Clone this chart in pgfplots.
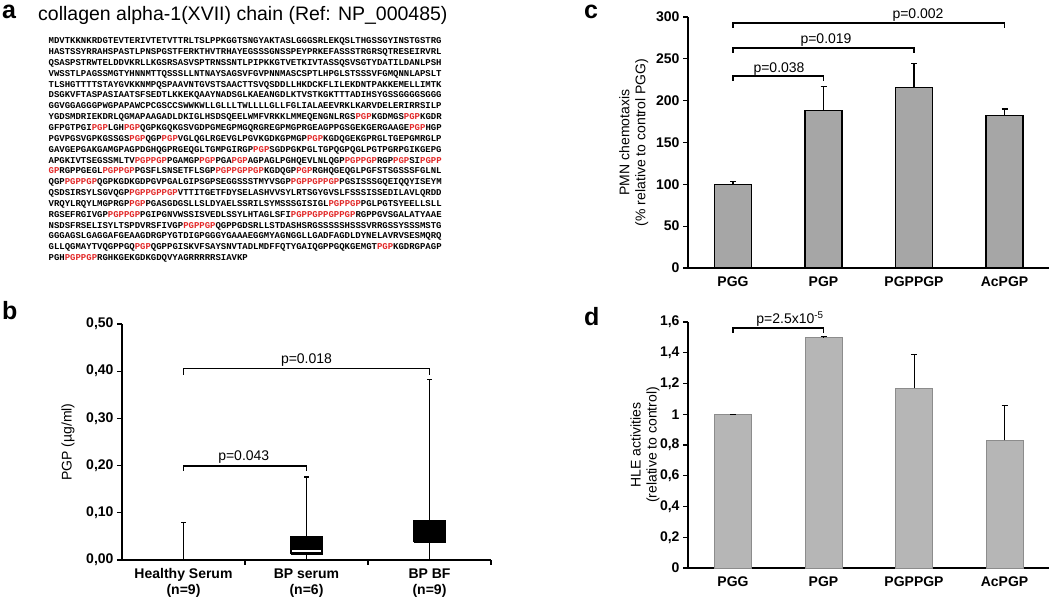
\documentclass[border=0pt]{standalone}
\usepackage{fontspec}
\setmainfont{Liberation Sans}
\setmonofont{Liberation Mono}
\usepackage{pgfplots}
\pgfplotsset{compat=1.18}

\definecolor{seqred}{RGB}{226,40,40}
\definecolor{barc}{RGB}{166,166,166}
\definecolor{bard}{RGB}{182,182,182}
\newcommand\R[1]{\textcolor{seqred}{#1}}
\newcommand\fs[2]{\fontsize{#1}{#2}\selectfont}

\pgfplotsset{
  panel/.style={
    scale only axis, axis lines*=left, clip=false,
    tick align=outside, major tick length=5pt,
    axis line style={line width=1.3pt},
    every tick/.style={black, line width=1.3pt},
    tick label style={font=\fs{14}{16}\bfseries},
    label style={font=\fs{14}{16}},
    /pgf/number format/assume math mode=true,
    /pgf/number format/use comma,
  },
  bx/.style={black, line width=1.3pt, mark=none},
}

\begin{document}
\begin{tikzpicture}
\path[use as bounding box] (0pt,0pt) rectangle (1050pt,604pt);

% ---- a: sequence
\node[anchor=base west, inner sep=0, font=\fs{25}{28}\bfseries] at (2pt,585pt) {a};
\node[anchor=base west, inner sep=0, font=\fs{19.5}{22}] at (38pt,583pt) {collagen alpha-1(XVII) chain (Ref: NP\_000485)};
\foreach \s [count=\i] in {
  {MDVTKKNKRDGTEVTERIVTETVTTRLTSLPPKGGTSNGYAKTASLGGGSRLEKQSLTHGSSGYINSTGSTRG},
  {HASTSSYRRAHSPASTLPNSPGSTFERKTHVTRHAYEGSSSGNSSPEYPRKEFASSSTRGRSQTRESEIRVRL},
  {QSASPSTRWTELDDVKRLLKGSRSASVSPTRNSSNTLPIPKKGTVETKIVTASSQSVSGTYDATILDANLPSH},
  {VWSSTLPAGSSMGTYHNNMTTQSSSLLNTNAYSAGSVFGVPNNMASCSPTLHPGLSTSSSVFGMQNNLAPSLT},
  {TLSHGTTTTSTAYGVKKNMPQSPAAVNTGVSTSAACTTSVQSDDLLHKDCKFLILEKDNTPAKKEMELLIMTK},
  {DSGKVFTASPASIAATSFSEDTLKKEKQAAYNADSGLKAEANGDLKTVSTKGKTTTADIHSYGSSGGGGSGGG},
  {GGVGGAGGGPWGPAPAWCPCGSCCSWWKWLLGLLLTWLLLLGLLFGLIALAEEVRKLKARVDELERIRRSILP},
  {YGDSMDRIEKDRLQGMAPAAGADLDKIGLHSDSQEELWMFVRKKLMMEQENGNLRGS\R{PGP}KGDMGS\R{PGP}KGDR},
  {GFPGTPGI\R{PGP}LGH\R{PGP}QGPKGQKGSVGDPGMEGPMGQRGREGPMGPRGEAGPPGSGEKGERGAAGE\R{PGP}HGP},
  {PGVPGSVGPKGSSGS\R{PGP}QGP\R{PGP}VGLQGLRGEVGLPGVKGDKGPMGP\R{PGP}KGDQGEKGPRGLTGEPGMRGLP},
  {GAVGEPGAKGAMGPAGPDGHQGPRGEQGLTGMPGIRGP\R{PGP}SGDPGKPGLTGPQGPQGLPGTPGRPGIKGEPG},
  {APGKIVTSEGSSMLTV\R{PGPPGP}PGAMGP\R{PGP}PGA\R{PGP}AGPAGLPGHQEVLNLQGP\R{PGPPGP}RGP\R{PGP}SI\R{PGPP}},
  {\R{GP}RGPPGEGL\R{PGPPGP}PGSFLSNSETFLSGP\R{PGPPGPPGP}KGDQGP\R{PGP}RGHQGEQGLPGFSTSGSSSFGLNL},
  {QGP\R{PGPPGP}QGPKGDKGDPGVPGALGIPSGPSEGGSSSTMYVSGP\R{PGPPGPPGP}PGSISSSGQEIQQYISEYM},
  {QSDSIRSYLSGVQGP\R{PGPPGPPGP}VTTITGETFDYSELASHVVSYLRTSGYGVSLFSSSISSEDILAVLQRDD},
  {VRQYLRQYLMGPRGP\R{PGP}PGASGDGSLLSLDYAELSSRILSYMSSSGISIGL\R{PGPPGP}PGLPGTSYEELLSLL},
  {RGSEFRGIVGP\R{PGPPGP}PGIPGNVWSSISVEDLSSYLHTAGLSFI\R{PGPPGPPGPPGP}RGPPGVSGALATYAAE},
  {NSDSFRSELISYLTSPDVRSFIVGP\R{PGPPGP}QGPPGDSRLLSTDASHSRGSSSSSHSSSVRRGSSYSSSMSTG},
  {GGGAGSLGAGGAFGEAAGDRGPYGTDIGPGGGYGAAAEGGMYAGNGGLLGADFAGDLDYNELAVRVSESMQRQ},
  {GLLQGMAYTVQGPPGQ\R{PGP}QGPPGISKVFSAYSNVTADLMDFFQTYGAIQGPPGQKGEMGT\R{PGP}KGDRGPAGP},
  {PGH\R{PGPPGP}RGHKGEKGDKGDQVYAGRRRRRSIAVKP}}
  \node[anchor=base west, inner sep=0, font=\ttfamily\bfseries\fs{8.97}{10}] at (48.5pt,{560.3pt-(\i-1)*10.85pt}) {\s};

% ---- b: box plots (min, q1, median, q3, max)
% Healthy Serum: 0, 0, 0, 0, 0.080
% BP serum:      0, 0.013, 0.019, 0.049, 0.176
% BP BF:         0, 0.038, 0.055, 0.083, 0.383
\node[anchor=base west, inner sep=0, font=\fs{25}{28}\bfseries] at (2pt,284pt) {b};
\begin{axis}[panel, at={(122pt,44pt)}, anchor=south west,
  width=369pt, height=236pt,
  xmin=0.5, xmax=3.5, ymin=0, ymax=0.5,
  ytick={0,0.1,0.2,0.3,0.4,0.5},
  yticklabel style={/pgf/number format/.cd, fixed, fixed zerofill, precision=2},
  xtick={1.5,2.5,3.5}, xticklabels={},
  extra x ticks={1,2,3},
  extra x tick labels={{Healthy Serum\\(n=9)},{BP serum\\(n=6)},{BP BF\\(n=9)}},
  extra x tick style={tick style={draw=none}, xticklabel style={align=center}},
  ylabel={PGP (µg/ml)},
  ylabel style={at={(axis description cs:-0.146,0.5)}, anchor=center},
]
% whiskers
\addplot[bx] coordinates {(1,0) (1,0.080)};
\addplot[bx] coordinates {(0.983,0.080) (1.017,0.080)};
\addplot[bx] coordinates {(2,0) (2,0.176)};
\addplot[bx] coordinates {(1.983,0.176) (2.017,0.176)};
\addplot[bx] coordinates {(3,0) (3,0.383)};
\addplot[bx] coordinates {(2.983,0.383) (3.017,0.383)};
% boxes
\addplot[bx, fill=black] coordinates {(1.875,0.013) (2.125,0.013) (2.125,0.049) (1.875,0.049) (1.875,0.013)};
\addplot[bx, fill=black] coordinates {(2.87,0.038) (3.13,0.038) (3.13,0.083) (2.87,0.083) (2.87,0.038)};
% median of BP serum
\addplot[white, line width=1.3pt, mark=none] coordinates {(1.885,0.019) (2.115,0.019)};
\draw[line width=1.3pt] (axis cs:1,0.392) |- (axis cs:3,0.405) -- (axis cs:3,0.392);
\draw[line width=1.3pt] (axis cs:1,0.189) |- (axis cs:2,0.199) -- (axis cs:2,0.189);
\node[anchor=base, font=\fs{14}{16}] at (axis cs:2,0.417) {p=0.018};
\node[anchor=base, font=\fs{14}{16}] at (axis cs:1.49,0.211) {p=0.043};
\end{axis}

% ---- c: PMN chemotaxis
\node[anchor=base west, inner sep=0, font=\fs{25}{28}\bfseries] at (584pt,585pt) {c};
\begin{axis}[panel, at={(688pt,336pt)}, anchor=south west,
  width=361pt, height=251pt,
  xmin=688, xmax=1049, ymin=0, ymax=300,
  ytick={0,50,100,150,200,250,300},
  xtick={733,823.5,914,1004.5}, xticklabels={PGG,PGP,PGPPGP,AcPGP},
  xtick style={draw=none},
  ylabel={PMN chemotaxis\\(\% relative to control PGG)},
  ylabel style={align=center, at={(axis description cs:-0.15,0.5)}, anchor=center},
]
\addplot[ybar, bar width=37, fill=barc, draw=black, line width=1.3pt,
  error bars/.cd, y dir=plus, y explicit,
  error bar style={line width=1.3pt},
  error mark options={rotate=90, mark size=3pt, line width=1.3pt}]
  coordinates {(733,100) +- (0,3) (823.5,188) +- (0,29) (914,216) +- (0,28) (1004.5,182) +- (0,8)};
\draw[line width=1.3pt] (axis cs:733,223.5) |- (axis cs:823.5,229.5) -- (axis cs:823.5,223.5);
\draw[line width=1.3pt] (axis cs:733,257) |- (axis cs:914,263) -- (axis cs:914,257);
\draw[line width=1.3pt] (axis cs:733,287) |- (axis cs:1004.5,293) -- (axis cs:1004.5,287);
\node[anchor=base, font=\fs{14}{16}] at (axis cs:779,234) {p=0.038};
\node[anchor=base, font=\fs{14}{16}] at (axis cs:826,268) {p=0.019};
\node[anchor=base, font=\fs{14}{16}] at (axis cs:918,298) {p=0.002};
\end{axis}

% ---- d: HLE activities
\node[anchor=base west, inner sep=0, font=\fs{25}{28}\bfseries] at (584pt,278pt) {d};
\begin{axis}[panel, at={(688pt,36pt)}, anchor=south west,
  width=361pt, height=246pt,
  xmin=688, xmax=1049, ymin=0, ymax=1.6,
  ytick={0,0.2,0.4,0.6,0.8,1,1.2,1.4,1.6},
  xtick={733,823.5,914,1004.5}, xticklabels={PGG,PGP,PGPPGP,AcPGP},
  xtick style={draw=none},
  ylabel={HLE activities\\(relative to control)},
  ylabel style={align=center, at={(axis description cs:-0.119,0.5)}, anchor=center},
]
\addplot[ybar, bar width=37, fill=bard, draw=black!45, line width=0.8pt,
  error bars/.cd, y dir=plus, y explicit,
  error bar style={line width=0.9pt, black},
  error mark options={rotate=90, mark size=3pt, line width=0.9pt, black}]
  coordinates {(733,1) +- (0,0) (823.5,1.5) +- (0,0.005) (914,1.17) +- (0,0.22) (1004.5,0.83) +- (0,0.23)};
\draw[line width=1.3pt] (axis cs:733,1.53) |- (axis cs:823.5,1.561) -- (axis cs:823.5,1.53);
\node[anchor=base, font=\fs{14}{16}] at (axis cs:790,1.59) {p=2.5x10\textsuperscript{-5}};
\end{axis}
\end{tikzpicture}
\end{document}
